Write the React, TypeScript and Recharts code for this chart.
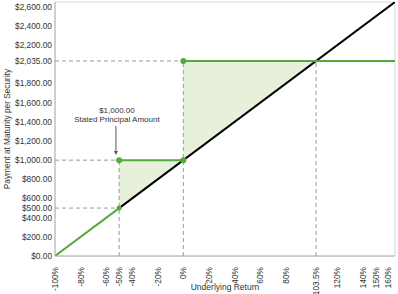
import React from "react"
import {
  ComposedChart,
  Line,
  Area,
  Scatter,
  XAxis,
  YAxis,
  ReferenceLine,
} from "recharts"

// tick positions
const returnTicks = [-100, -80, -60, -50, -40, -20, 0, 20, 40, 60, 80, 103.5, 120, 140, 150, 160]
const paymentTicks = [0, 200, 400, 500, 600, 800, 1000, 1200, 1400, 1600, 1800, 2035, 2200, 2400, 2600]

// underlying (black) line
const underlyingReturn = [-50, 165]
const underlyingPayment = [500, 2650]

// securities payoff (green), split in its three pieces
const lossReturn = [-100, -50]
const lossPayment = [0, 500]
const principalReturn = [-50, 0]
const principalPayment = [1000, 1000]
const fixedReturn = [0, 165]
const fixedPayment = [2035, 2035]

// shaded region between the payoff and the underlying
const shadeReturn = [-50, 0, 0, 103.5]
const shadeLow = [500, 1000, 1000, 2035]
const shadeHigh = [1000, 1000, 2035, 2035]

// marked points
const dotReturn = [-50, -50, 0, 0]
const dotPayment = [500, 1000, 1000, 2035]

const GREEN = "#55a93f"
const FONT = "Liberation Sans, Arial, sans-serif"

const zip = (xs: number[], ys: number[]) => xs.map((r, i) => ({ r, p: ys[i] }))

const underlyingData = zip(underlyingReturn, underlyingPayment)
const lossData = zip(lossReturn, lossPayment)
const principalData = zip(principalReturn, principalPayment)
const fixedData = zip(fixedReturn, fixedPayment)
const shadeData = shadeReturn.map((r, i) => ({ r, band: [shadeLow[i], shadeHigh[i]] }))
const dotData = zip(dotReturn, dotPayment)

const fmtMoney = (v: number) =>
  "$" + v.toLocaleString("en-US", { minimumFractionDigits: 2, maximumFractionDigits: 2 })

const XTick = (props: any) => {
  const { x, y, payload } = props
  return (
    <text
      x={x}
      y={y + 3}
      transform={`rotate(-90, ${x}, ${y + 3})`}
      textAnchor="end"
      dy="0.35em"
      fontSize={8.3}
      fontFamily={FONT}
      fill="#333"
    >
      {payload.value}%
    </text>
  )
}

const AnnotationArrow = (props: any) => {
  const { x1, y1, x2, y2 } = props
  return (
    <g>
      <text x={x1 + 1} y={y1 - 16} textAnchor="middle" dy="0.35em" fontSize={8} fontFamily={FONT} fill="#333">
        $1,000.00
      </text>
      <text x={x1 + 1} y={y1 - 7} textAnchor="middle" dy="0.35em" fontSize={8} fontFamily={FONT} fill="#333">
        Stated Principal Amount
      </text>
      <line x1={x1} y1={y1} x2={x2} y2={y2 - 3} stroke="#555" strokeWidth={1} />
      <polygon points={`${x2 - 2},${y2 - 4} ${x2 + 2},${y2 - 4} ${x2},${y2}`} fill="#555" />
    </g>
  )
}

const dashed = { stroke: "#9a9a9a", strokeDasharray: "4 3", strokeWidth: 1 }

export default function App() {
  return (
    <div style={{ position: "absolute", left: 0, top: 0 }}>
      <ComposedChart width={398} height={294} margin={{ top: 2, right: 3, bottom: 0, left: 0 }}>
        <XAxis
          type="number"
          dataKey="r"
          domain={[-100, 165]}
          ticks={returnTicks}
          interval={0}
          allowDataOverflow
          tickLine={false}
          axisLine={{ stroke: "#a0a0a0" }}
          height={38}
          tick={<XTick />}
          label={{
            value: "Underlying Return",
            position: "insideBottom",
            offset: 4,
            fontSize: 8.5,
            fontFamily: FONT,
            fill: "#333",
          }}
        />
        <YAxis
          type="number"
          dataKey="p"
          domain={[0, 2650]}
          ticks={paymentTicks}
          interval={0}
          allowDataOverflow
          width={55}
          tickLine={false}
          tickSize={0}
          tickMargin={3}
          axisLine={{ stroke: "#a0a0a0" }}
          tickFormatter={fmtMoney}
          tick={{ fontSize: 8.3, fontFamily: FONT, fill: "#333" }}
          label={{
            value: "Payment at Maturity per Security",
            angle: -90,
            position: "insideLeft",
            offset: 7,
            style: { textAnchor: "middle" },
            fontSize: 8.3,
            fontFamily: FONT,
            fill: "#333",
          }}
        />

        {/* plot frame */}
        <ReferenceLine y={2650} stroke="#d8d8d8" />
        <ReferenceLine x={165} stroke="#d8d8d8" />

        <Area
          data={shadeData}
          dataKey="band"
          type="linear"
          stroke="none"
          fill="#e6f0da"
          fillOpacity={1}
          isAnimationActive={false}
        />

        <ReferenceLine segment={[{ x: -100, y: 2035 }, { x: 0, y: 2035 }]} {...dashed} />
        <ReferenceLine segment={[{ x: -100, y: 1000 }, { x: -50, y: 1000 }]} {...dashed} />
        <ReferenceLine segment={[{ x: -100, y: 500 }, { x: -50, y: 500 }]} {...dashed} />
        <ReferenceLine segment={[{ x: -50, y: 0 }, { x: -50, y: 1000 }]} {...dashed} />
        <ReferenceLine segment={[{ x: 0, y: 0 }, { x: 0, y: 2035 }]} {...dashed} />
        <ReferenceLine segment={[{ x: 103.5, y: 0 }, { x: 103.5, y: 2035 }]} {...dashed} />

        <Line data={underlyingData} dataKey="p" type="linear" stroke="#000" strokeWidth={2} dot={false} isAnimationActive={false} />
        <Line data={lossData} dataKey="p" type="linear" stroke={GREEN} strokeWidth={2} dot={false} isAnimationActive={false} />
        <Line data={principalData} dataKey="p" type="linear" stroke={GREEN} strokeWidth={2} dot={false} isAnimationActive={false} />
        <Line data={fixedData} dataKey="p" type="linear" stroke={GREEN} strokeWidth={2} dot={false} isAnimationActive={false} />

        <Scatter
          data={dotData}
          dataKey="p"
          fill={GREEN}
          isAnimationActive={false}
          shape={(p: any) => <circle cx={p.cx} cy={p.cy} r={p.payload.p === 500 ? 2.5 : 3} fill={GREEN} />}
        />

        <ReferenceLine
          segment={[{ x: -52.5, y: 1356 }, { x: -52.5, y: 1054 }]}
          shape={<AnnotationArrow />}
        />
      </ComposedChart>
    </div>
  )
}
